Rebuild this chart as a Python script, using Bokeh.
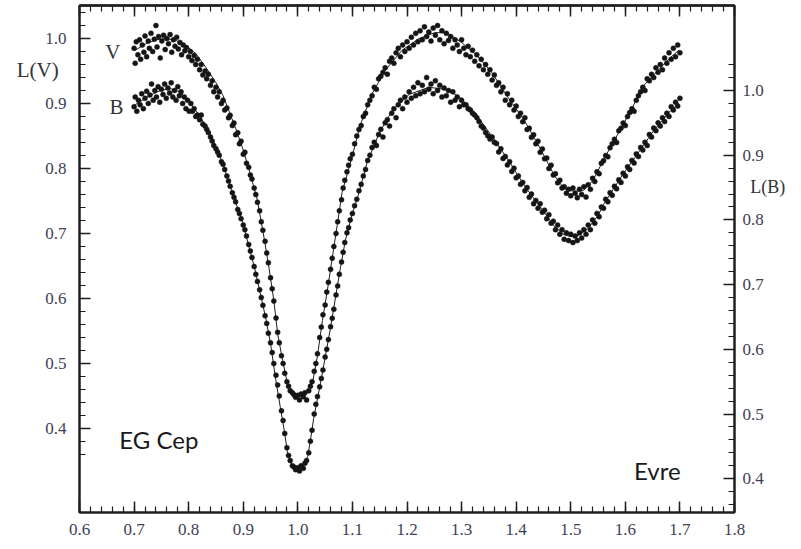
from bokeh.plotting import figure
from bokeh.models import Range1d, LinearAxis, FixedTicker, PrintfTickFormatter, Label
from bokeh.embed import file_html
from bokeh.resources import INLINE
import numpy as np

# ---------------- data ----------------
x_major = [0.6, 0.7, 0.8, 0.9, 1.0, 1.1, 1.2, 1.3, 1.4, 1.5, 1.6, 1.7, 1.8]
y_major = [0.4, 0.5, 0.6, 0.7, 0.8, 0.9, 1.0]

# V light curve (left axis, L(V))
v_phase = [
    0.700, 0.702, 0.704, 0.707, 0.710, 0.712, 0.715, 0.718, 0.720, 0.723,
    0.726, 0.728, 0.731, 0.734, 0.737, 0.740, 0.742, 0.745, 0.748, 0.751,
    0.754, 0.757, 0.760, 0.763, 0.766, 0.769, 0.772, 0.775, 0.778, 0.781,
    0.784, 0.787, 0.790, 0.793, 0.796, 0.800, 0.803, 0.806, 0.810, 0.813,
    0.816, 0.820, 0.823, 0.826, 0.830, 0.833, 0.836, 0.840, 0.843, 0.846,
    0.850, 0.853, 0.856, 0.860, 0.863, 0.866, 0.870, 0.873, 0.876, 0.880,
    0.883, 0.886, 0.890, 0.893, 0.896, 0.900, 0.903, 0.906, 0.910, 0.913,
    0.916, 0.920, 0.923, 0.926, 0.930, 0.933, 0.936, 0.940, 0.943, 0.946,
    0.950, 0.953, 0.956, 0.960, 0.963, 0.966, 0.970, 0.973, 0.976, 0.980,
    0.983, 0.986, 0.990, 0.993, 0.996, 1.000, 1.003, 1.006, 1.010, 1.013,
    1.016, 1.020, 1.023, 1.026, 1.030, 1.033, 1.036, 1.040, 1.043, 1.046,
    1.050, 1.053, 1.056, 1.060, 1.063, 1.066, 1.070, 1.073, 1.076, 1.080,
    1.083, 1.086, 1.090, 1.093, 1.096, 1.100, 1.104, 1.108, 1.112, 1.116,
    1.120, 1.124, 1.128, 1.132, 1.136, 1.140, 1.144, 1.148, 1.152, 1.156,
    1.160, 1.164, 1.168, 1.172, 1.176, 1.180, 1.184, 1.188, 1.192, 1.196,
    1.200, 1.204, 1.208, 1.212, 1.216, 1.220, 1.224, 1.228, 1.232, 1.236,
    1.240, 1.244, 1.248, 1.252, 1.256, 1.260, 1.264, 1.268, 1.272, 1.276,
    1.280, 1.284, 1.288, 1.292, 1.296, 1.300, 1.304, 1.308, 1.312, 1.316,
    1.320, 1.324, 1.328, 1.332, 1.336, 1.340, 1.344, 1.348, 1.352, 1.356,
    1.360, 1.364, 1.368, 1.372, 1.376, 1.380, 1.384, 1.388, 1.392, 1.396,
    1.400, 1.404, 1.408, 1.412, 1.416, 1.420, 1.424, 1.428, 1.432, 1.436,
    1.440, 1.444, 1.448, 1.452, 1.456, 1.460, 1.464, 1.468, 1.472, 1.476,
    1.480, 1.484, 1.488, 1.492, 1.496, 1.500, 1.504, 1.508, 1.512, 1.516,
    1.520, 1.524, 1.528, 1.532, 1.536, 1.540, 1.544, 1.548, 1.552, 1.556,
    1.560, 1.564, 1.568, 1.572, 1.576, 1.580, 1.584, 1.588, 1.592, 1.596,
    1.600, 1.604, 1.608, 1.612, 1.616, 1.620, 1.624, 1.628, 1.632, 1.636,
    1.640, 1.644, 1.648, 1.652, 1.656, 1.660, 1.664, 1.668, 1.672, 1.676,
    1.680, 1.684, 1.688, 1.692, 1.696, 1.700,
]
v_flux = [
    0.985, 0.962, 0.995, 0.975, 0.998, 0.968, 0.990, 0.979, 1.004, 0.972,
    0.996, 0.985, 1.008, 0.980, 0.999, 1.020, 0.987, 1.003, 0.970, 0.996,
    1.005, 0.983, 1.000, 0.992, 1.006, 0.979, 0.998, 0.988, 1.002, 0.984,
    0.994, 0.975, 0.990, 0.981, 0.986, 0.972, 0.980, 0.966, 0.974, 0.960,
    0.968, 0.952, 0.960, 0.944, 0.950, 0.938, 0.945, 0.928, 0.935, 0.918,
    0.925, 0.910, 0.918, 0.900, 0.905, 0.890, 0.893, 0.878, 0.882, 0.866,
    0.870, 0.852, 0.855, 0.838, 0.842, 0.822, 0.825, 0.808, 0.802, 0.790,
    0.784, 0.770, 0.760, 0.748, 0.735, 0.718, 0.705, 0.688, 0.670, 0.655,
    0.632, 0.615, 0.596, 0.570, 0.548, 0.532, 0.512, 0.500, 0.485, 0.472,
    0.465, 0.458, 0.455, 0.452, 0.448, 0.451, 0.444, 0.453, 0.449, 0.455,
    0.444, 0.458, 0.465, 0.472, 0.488, 0.500, 0.515, 0.540, 0.556, 0.575,
    0.590, 0.610, 0.625, 0.645, 0.662, 0.680, 0.700, 0.718, 0.735, 0.752,
    0.770, 0.782, 0.795, 0.805, 0.815, 0.822, 0.838, 0.850, 0.860, 0.866,
    0.880, 0.885, 0.898, 0.905, 0.912, 0.925, 0.922, 0.938, 0.942, 0.948,
    0.955, 0.945, 0.965, 0.970, 0.962, 0.978, 0.985, 0.972, 0.990, 0.980,
    0.995, 0.985, 1.002, 0.990, 1.008, 0.995, 1.012, 0.998, 1.018, 1.003,
    1.010, 0.996, 1.016, 1.005, 1.020, 0.998, 1.012, 0.992, 1.008, 0.997,
    1.003, 0.985, 0.998, 0.990, 0.980, 0.998, 0.985, 0.975, 0.988, 0.972,
    0.982, 0.965, 0.975, 0.958, 0.968, 0.952, 0.960, 0.945, 0.952, 0.936,
    0.944, 0.928, 0.932, 0.918, 0.925, 0.905, 0.915, 0.898, 0.905, 0.890,
    0.896, 0.880, 0.885, 0.872, 0.878, 0.860, 0.862, 0.848, 0.852, 0.838,
    0.842, 0.825, 0.830, 0.815, 0.816, 0.800, 0.805, 0.790, 0.792, 0.778,
    0.782, 0.770, 0.772, 0.762, 0.768, 0.758, 0.770, 0.762, 0.755, 0.768,
    0.760, 0.772, 0.756, 0.775, 0.768, 0.785, 0.780, 0.795, 0.792, 0.808,
    0.812, 0.820, 0.818, 0.832, 0.838, 0.845, 0.840, 0.858, 0.862, 0.870,
    0.866, 0.880, 0.886, 0.892, 0.888, 0.905, 0.912, 0.918, 0.925, 0.920,
    0.938, 0.935, 0.945, 0.940, 0.955, 0.948, 0.960, 0.952, 0.970, 0.962,
    0.978, 0.968, 0.985, 0.972, 0.990, 0.978,
]

# B light curve (right axis, L(B))
b_phase = [
    0.700, 0.702, 0.705, 0.708, 0.711, 0.714, 0.717, 0.720, 0.723, 0.726,
    0.729, 0.732, 0.735, 0.738, 0.741, 0.744, 0.747, 0.750, 0.753, 0.756,
    0.759, 0.762, 0.765, 0.768, 0.771, 0.774, 0.777, 0.780, 0.783, 0.786,
    0.789, 0.792, 0.795, 0.798, 0.801, 0.804, 0.807, 0.810, 0.813, 0.816,
    0.820, 0.823, 0.826, 0.830, 0.833, 0.836, 0.840, 0.843, 0.846, 0.850,
    0.853, 0.856, 0.860, 0.863, 0.866, 0.870, 0.873, 0.876, 0.880, 0.883,
    0.886, 0.890, 0.893, 0.896, 0.900, 0.903, 0.906, 0.910, 0.913, 0.916,
    0.920, 0.923, 0.926, 0.930, 0.933, 0.936, 0.940, 0.943, 0.946, 0.950,
    0.953, 0.956, 0.960, 0.963, 0.966, 0.970, 0.973, 0.976, 0.980, 0.983,
    0.986, 0.990, 0.993, 0.996, 1.000, 1.003, 1.006, 1.010, 1.013, 1.016,
    1.020, 1.023, 1.026, 1.030, 1.033, 1.036, 1.040, 1.043, 1.046, 1.050,
    1.053, 1.056, 1.060, 1.063, 1.066, 1.070, 1.073, 1.076, 1.080, 1.083,
    1.086, 1.090, 1.093, 1.096, 1.100, 1.104, 1.108, 1.112, 1.116, 1.120,
    1.124, 1.128, 1.132, 1.136, 1.140, 1.144, 1.148, 1.152, 1.156, 1.160,
    1.164, 1.168, 1.172, 1.176, 1.180, 1.184, 1.188, 1.192, 1.196, 1.200,
    1.204, 1.208, 1.212, 1.216, 1.220, 1.224, 1.228, 1.232, 1.236, 1.240,
    1.244, 1.248, 1.252, 1.256, 1.260, 1.264, 1.268, 1.272, 1.276, 1.280,
    1.284, 1.288, 1.292, 1.296, 1.300, 1.304, 1.308, 1.312, 1.316, 1.320,
    1.324, 1.328, 1.332, 1.336, 1.340, 1.344, 1.348, 1.352, 1.356, 1.360,
    1.364, 1.368, 1.372, 1.376, 1.380, 1.384, 1.388, 1.392, 1.396, 1.400,
    1.404, 1.408, 1.412, 1.416, 1.420, 1.424, 1.428, 1.432, 1.436, 1.440,
    1.444, 1.448, 1.452, 1.456, 1.460, 1.464, 1.468, 1.472, 1.476, 1.480,
    1.484, 1.488, 1.492, 1.496, 1.500, 1.504, 1.508, 1.512, 1.516, 1.520,
    1.524, 1.528, 1.532, 1.536, 1.540, 1.544, 1.548, 1.552, 1.556, 1.560,
    1.564, 1.568, 1.572, 1.576, 1.580, 1.584, 1.588, 1.592, 1.596, 1.600,
    1.604, 1.608, 1.612, 1.616, 1.620, 1.624, 1.628, 1.632, 1.636, 1.640,
    1.644, 1.648, 1.652, 1.656, 1.660, 1.664, 1.668, 1.672, 1.676, 1.680,
    1.684, 1.688, 1.692, 1.696, 1.700,
]
b_flux = [
    0.975, 0.990, 0.968, 0.985, 0.978, 0.995, 0.972, 0.988, 0.999, 0.980,
    0.993, 1.010, 0.985, 1.000, 0.990, 1.006, 0.982, 1.002, 0.994, 1.010,
    0.988, 1.004, 0.996, 1.012, 0.990, 1.000, 0.985, 1.006, 0.992, 0.998,
    0.980, 0.990, 0.972, 0.985, 0.968, 0.980, 0.968, 0.972, 0.960, 0.962,
    0.955, 0.962, 0.948, 0.945, 0.940, 0.935, 0.928, 0.922, 0.915, 0.910,
    0.905, 0.900, 0.890, 0.886, 0.878, 0.868, 0.860, 0.852, 0.842, 0.835,
    0.828, 0.816, 0.810, 0.802, 0.792, 0.785, 0.775, 0.762, 0.752, 0.742,
    0.728, 0.716, 0.705, 0.692, 0.680, 0.668, 0.652, 0.640, 0.625, 0.610,
    0.595, 0.578, 0.560, 0.545, 0.528, 0.505, 0.490, 0.470, 0.448, 0.436,
    0.428, 0.420, 0.418, 0.414, 0.417, 0.412, 0.420, 0.416, 0.424, 0.428,
    0.440, 0.458, 0.475, 0.500, 0.515, 0.527, 0.542, 0.555, 0.568, 0.588,
    0.600, 0.615, 0.635, 0.648, 0.662, 0.684, 0.698, 0.716, 0.735, 0.750,
    0.765, 0.780, 0.788, 0.800, 0.810, 0.822, 0.832, 0.845, 0.855, 0.868,
    0.878, 0.892, 0.900, 0.912, 0.920, 0.915, 0.932, 0.940, 0.928, 0.950,
    0.955, 0.945, 0.965, 0.972, 0.958, 0.978, 0.985, 0.972, 0.990, 0.982,
    0.998, 0.988, 1.005, 0.992, 1.012, 0.995, 1.008, 0.998, 1.020, 1.002,
    1.010, 0.995, 1.015, 1.000, 1.008, 0.990, 1.004, 0.992, 1.000, 0.982,
    0.998, 0.985, 0.990, 0.975, 0.985, 0.978, 0.978, 0.972, 0.970, 0.965,
    0.962, 0.958, 0.952, 0.945, 0.942, 0.935, 0.930, 0.925, 0.928, 0.920,
    0.918, 0.905, 0.910, 0.895, 0.898, 0.885, 0.890, 0.875, 0.880, 0.865,
    0.868, 0.855, 0.858, 0.845, 0.850, 0.835, 0.840, 0.825, 0.830, 0.818,
    0.825, 0.812, 0.815, 0.802, 0.808, 0.795, 0.798, 0.785, 0.792, 0.778,
    0.785, 0.770, 0.780, 0.768, 0.778, 0.765, 0.775, 0.768, 0.780, 0.772,
    0.785, 0.778, 0.792, 0.785, 0.800, 0.795, 0.810, 0.805, 0.820, 0.818,
    0.832, 0.828, 0.842, 0.838, 0.852, 0.848, 0.862, 0.858, 0.872, 0.868,
    0.882, 0.878, 0.892, 0.888, 0.902, 0.898, 0.912, 0.908, 0.920, 0.915,
    0.932, 0.928, 0.942, 0.938, 0.950, 0.945, 0.958, 0.952, 0.965, 0.960,
    0.975, 0.970, 0.982, 0.976, 0.988,
]

# fitted model curves
v_fit_phase = [0.702, 0.722, 0.740, 0.759, 0.777, 0.795, 0.813, 0.832, 0.850, 0.863,
               0.875, 0.886, 0.899, 0.912, 0.926, 0.939, 0.947, 0.956, 0.963, 0.972,
               0.981, 0.990, 1.003, 1.016, 1.027, 1.036, 1.045, 1.054, 1.063, 1.072,
               1.081, 1.100, 1.114, 1.136, 1.160, 1.191, 1.222, 1.251, 1.273, 1.300,
               1.328, 1.355, 1.386, 1.415, 1.446, 1.470, 1.488, 1.505, 1.523, 1.541,
               1.561, 1.587, 1.610, 1.634, 1.660, 1.683, 1.698]
v_fit_flux = [0.982, 0.992, 0.998, 1.000, 0.997, 0.989, 0.977, 0.955, 0.932, 0.912,
              0.886, 0.862, 0.831, 0.794, 0.751, 0.689, 0.648, 0.597, 0.546, 0.505,
              0.469, 0.455, 0.451, 0.454, 0.471, 0.512, 0.566, 0.612, 0.662, 0.712,
              0.763, 0.820, 0.866, 0.915, 0.951, 0.982, 1.000, 1.009, 1.009, 0.994,
              0.974, 0.948, 0.908, 0.874, 0.828, 0.789, 0.769, 0.765, 0.766, 0.782,
              0.815, 0.854, 0.889, 0.928, 0.951, 0.971, 0.982]
b_fit_phase = [0.702, 0.726, 0.748, 0.766, 0.784, 0.802, 0.821, 0.839, 0.850, 0.863,
               0.875, 0.886, 0.899, 0.910, 0.921, 0.930, 0.941, 0.950, 0.959, 0.968,
               0.976, 0.981, 0.988, 0.999, 1.010, 1.018, 1.023, 1.029, 1.040, 1.050,
               1.060, 1.069, 1.078, 1.087, 1.100, 1.109, 1.127, 1.149, 1.173, 1.204,
               1.240, 1.269, 1.295, 1.324, 1.355, 1.386, 1.415, 1.446, 1.470, 1.488,
               1.501, 1.514, 1.532, 1.550, 1.561, 1.592, 1.623, 1.652, 1.683, 1.698]
b_fit_flux = [0.978, 0.991, 1.000, 1.003, 0.998, 0.981, 0.960, 0.934, 0.912, 0.886,
              0.855, 0.827, 0.796, 0.760, 0.725, 0.691, 0.649, 0.609, 0.556, 0.510,
              0.470, 0.440, 0.423, 0.417, 0.420, 0.434, 0.459, 0.493, 0.541, 0.587,
              0.634, 0.680, 0.726, 0.768, 0.811, 0.833, 0.889, 0.934, 0.969, 0.994,
              1.005, 1.002, 0.991, 0.966, 0.930, 0.892, 0.853, 0.818, 0.790, 0.777,
              0.774, 0.776, 0.787, 0.807, 0.825, 0.866, 0.903, 0.938, 0.969, 0.980]

# ---------------- figure ----------------
TXT = "#3d4155"
INK = "#1e1e1e"
V_LO, V_HI = 0.2708, 1.0508
B_LO, B_HI = 0.3478, 1.1314

p = figure(width=801, height=549,
           x_range=Range1d(0.6, 1.8), y_range=Range1d(V_LO, V_HI),
           output_backend="svg", toolbar_location=None,
           min_border_left=76, min_border_right=67, min_border_bottom=37, min_border_top=5)
p.extra_y_ranges = {"b": Range1d(B_LO, B_HI)}
p.grid.visible = False
p.outline_line_color = INK
p.outline_line_width = 2
p.background_fill_color = "white"
p.border_fill_color = "white"

x_minor = [round(v, 2) for v in np.arange(0.6, 1.8001, 0.02)]
y_minor = [round(v, 2) for v in np.arange(0.36, 1.0401, 0.02)]
xticker = FixedTicker(ticks=x_major, minor_ticks=x_minor)
yticker = FixedTicker(ticks=y_major, minor_ticks=y_minor)


def style(ax):
    ax.major_tick_in = 11
    ax.major_tick_out = 0
    ax.minor_tick_in = 6
    ax.minor_tick_out = 0
    ax.axis_line_width = 2
    ax.axis_line_color = INK
    ax.major_tick_line_width = 1.5
    ax.major_tick_line_color = INK
    ax.minor_tick_line_width = 1.2
    ax.minor_tick_line_color = INK
    ax.formatter = PrintfTickFormatter(format="%.1f")
    ax.major_label_text_font = "Liberation Serif"
    ax.major_label_text_color = TXT
    ax.major_label_text_font_size = "17px"
    ax.major_label_standoff = 13


p.xaxis.ticker = xticker
p.yaxis.ticker = yticker
style(p.xaxis[0])
style(p.yaxis[0])
p.xaxis[0].major_label_standoff = 11

right = LinearAxis(y_range_name="b", ticker=yticker)
style(right)
right.major_label_standoff = 8
p.add_layout(right, "right")

# ticks along the top edge: two label-less axes (only "minor" tick marks are used,
# one with the long length at the major positions, one with the short length)
top_major = LinearAxis(ticker=FixedTicker(ticks=[], minor_ticks=x_major))
top_minor = LinearAxis(ticker=FixedTicker(ticks=[], minor_ticks=x_minor))
for ax, ln, lw in ((top_major, 11, 1.5), (top_minor, 6, 1.2)):
    ax.major_tick_in = 0
    ax.major_tick_out = 0
    ax.minor_tick_in = ln
    ax.minor_tick_out = 0
    ax.minor_tick_line_width = lw
    ax.minor_tick_line_color = INK
    ax.axis_line_width = 2
    ax.axis_line_color = INK
    ax.major_label_standoff = 0
    p.add_layout(ax, "above")

# fitted curves
p.line(v_fit_phase, v_fit_flux, line_color=INK, line_width=1)
p.line(b_fit_phase, b_fit_flux, line_color=INK, line_width=1, y_range_name="b")

# observations
p.scatter(v_phase, v_flux, size=5, marker="circle", fill_color="#151515",
          line_color="#151515", line_alpha=0.5)
p.scatter(b_phase, b_flux, size=5, marker="circle", fill_color="#151515",
          line_color="#151515", line_alpha=0.5, y_range_name="b")

# texts
serif = "Liberation Serif"
p.add_layout(Label(x=0.485, y=0.951, text="L(V)", text_font=serif, text_font_size="21px",
                   text_color="#333333", text_baseline="middle"), "left")
p.add_layout(Label(x=1.829, y=0.772, text="L(B)", text_font=serif, text_font_size="18px",
                   text_color="#333333", text_baseline="middle"), "right")
p.add_layout(Label(x=0.647, y=0.980, text="V", text_font=serif, text_font_size="21px",
                   text_color="#333333", text_baseline="alphabetic"))
p.add_layout(Label(x=0.655, y=0.895, text="B", text_font=serif, text_font_size="21px",
                   text_color="#333333", text_baseline="alphabetic"))
p.add_layout(Label(x=0.673, y=0.383, text="EG Cep", text_font="Lato", text_font_size="24px",
                   text_color="#1a1a1a", text_baseline="alphabetic"))
p.add_layout(Label(x=1.616, y=0.3355, text="Evre", text_font="Lato", text_font_size="24px",
                   text_color="#1a1a1a", text_baseline="alphabetic"))

open("out.html", "w").write(file_html(p, INLINE))
